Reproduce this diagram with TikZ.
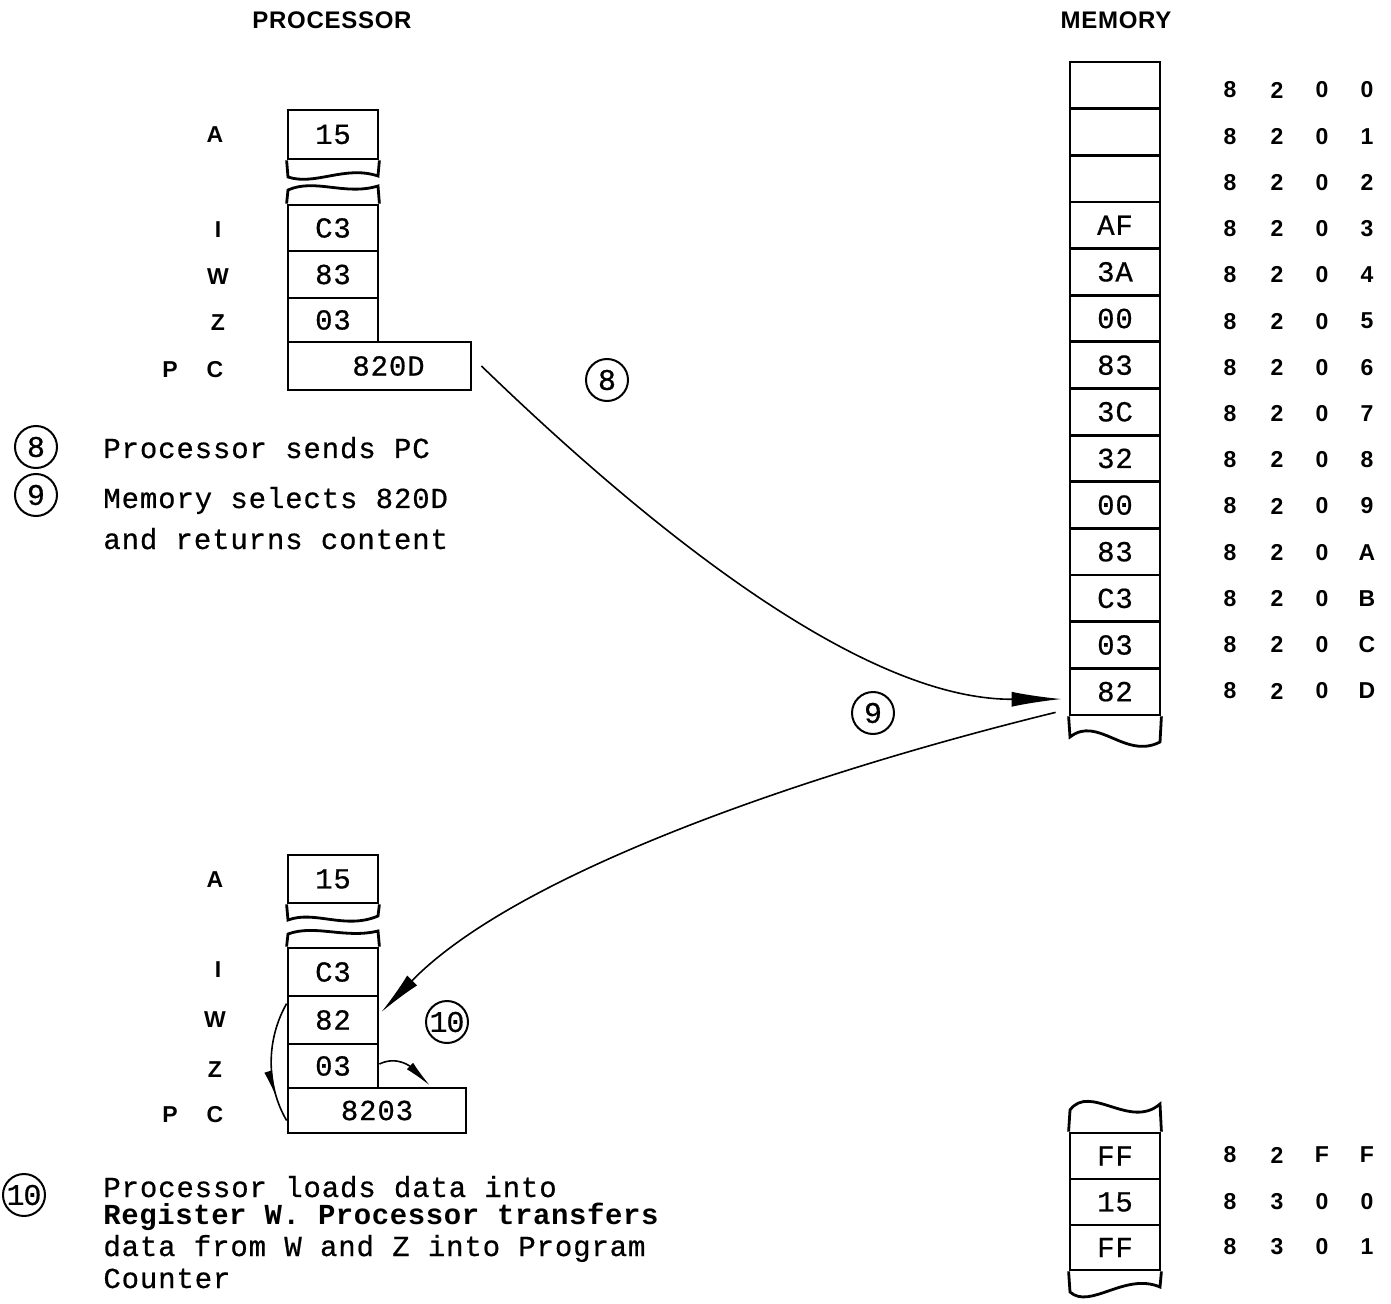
\documentclass[tikz,border=0pt]{standalone}
\usepackage{fontspec}
\setmainfont{Liberation Sans}
\newfontfamily\monof[LetterSpace=3,FakeBold=0.6]{Liberation Mono}
\newfontfamily\monobf[LetterSpace=2]{Liberation Mono Bold}
\newfontfamily\sanslab{Liberation Sans Bold}
\newfontfamily\sanshead[LetterSpace=3]{Liberation Sans Bold}
\usetikzlibrary{arrows.meta,decorations.markings}
\newcommand{\valfont}{\monof\fontsize{14.5}{16}\selectfont}
\newcommand{\descfont}{\monof\fontsize{14.5}{16}\selectfont}
\newcommand{\descbf}{\monobf\fontsize{14.5}{16}\selectfont}
\newcommand{\numfont}{\monof\fontsize{15}{16}\selectfont}
\newcommand{\labfont}{\sanslab\fontsize{11.5}{13}\selectfont}
\newcommand{\headfont}{\sanshead\fontsize{12}{14}\selectfont}
\tikzset{
  cell/.style={draw, line width=1.4pt, minimum width=45pt, minimum height=#1, inner sep=0pt, font=\valfont},
  frame/.style={line width=1.4pt},
  reglab/.style={font=\labfont, inner sep=0pt},
  addr/.style={font=\labfont, inner sep=0pt},
  head/.style={font=\headfont, inner sep=0pt},
  desc/.style={font=\descfont, anchor=base west, inner sep=0pt},
  num/.style={draw, circle, line width=1pt, minimum size=21pt, inner sep=0pt, font=\numfont},
  conn/.style={line width=0.8pt},
}
\begin{document}
\begin{tikzpicture}[x=0.5pt,y=-0.5pt]
\useasboundingbox (0,0) rectangle (1391,1304);

% headers
\node[head] (hp) at (332,20) {PROCESSOR};
\node[head] (hm) at (1116,20) {MEMORY};

% ---------- top processor ----------
\node[cell=24.5pt] (tA) at (333,134.5) {15};
\draw[frame] (tA.south west) -- (288,177) .. controls (315,186) and (345,165) .. (378,176) -- (tA.south east);
\node[cell=23pt] (tI) at (333,228) {C3};
\draw[frame] (tI.north west) -- (288,190) .. controls (315,178) and (345,196) .. (378,186) -- (tI.north east);
\node[cell=23.5pt] (tW) at (333,274.5) {83};
\node[cell=22pt] (tZ) at (333,320) {03};
\node[cell=24pt, minimum width=91.5pt] (tPC) at (379.5,366) {\hspace*{9pt}820D};

\node[reglab] (ltA) at (215,135) {A};
\node[reglab] (ltI) at (218,230) {I};
\node[reglab] (ltW) at (218,277) {W};
\node[reglab] (ltZ) at (218,323) {Z};
\node[reglab] (ltP) at (170,370) {P};
\node[reglab] (ltC) at (215,370) {C};

% ---------- memory ----------
\foreach \v [count=\i from 0] in {{},{},{},AF,3A,00,83,3C,32,00,83,C3,03,82}{
  \pgfmathsetmacro{\yy}{62+46.64*(\i+0.5)}
  \node[cell=23.32pt] (m\i) at (1115,\yy) {\v};
}
\draw[frame] (m13.south west) -- (1070,737) .. controls (1098,715) and (1125,760) .. (1160,742) -- (m13.south east);

\foreach \a [count=\i from 0] in {0,1,2,3,4,5,6,7,8,9,A,B,C,D}{
  \pgfmathsetmacro{\yy}{90+46.23*\i}
  \node[addr] (ad\i a) at (1230,\yy) {8};
  \node[addr] (ad\i b) at (1277,\yy) {2};
  \node[addr] (ad\i c) at (1322,\yy) {0};
  \node[addr] (ad\i d) at (1367,\yy) {\a};
}

% lower memory block
\node[cell=23pt] (bm0) at (1115,1156) {FF};
\node[cell=23pt] (bm1) at (1115,1202) {15};
\node[cell=22.5pt] (bm2) at (1115,1247.5) {FF};
\draw[frame] (bm0.north west) -- (1070,1110) .. controls (1090,1083) and (1130,1130) .. (1160,1104) -- (bm0.north east);
\draw[frame] (bm2.south west) -- (1070,1292) .. controls (1090,1310) and (1125,1272) .. (1160,1287) -- (bm2.south east);

\node[addr] (ae0a) at (1230,1155) {8};
\node[addr] (ae0b) at (1277,1155) {2};
\node[addr] (ae0c) at (1322,1155) {F};
\node[addr] (ae0d) at (1367,1155) {F};
\node[addr] (ae1a) at (1230,1202) {8};
\node[addr] (ae1b) at (1277,1202) {3};
\node[addr] (ae1c) at (1322,1202) {0};
\node[addr] (ae1d) at (1367,1202) {0};
\node[addr] (ae2a) at (1230,1247) {8};
\node[addr] (ae2b) at (1277,1247) {3};
\node[addr] (ae2c) at (1322,1247) {0};
\node[addr] (ae2d) at (1367,1247) {1};

% ---------- bottom processor ----------
\node[cell=24pt] (bA) at (333,879) {15};
\draw[frame] (bA.south west) -- (288,920) .. controls (315,910) and (345,930) .. (378,916) -- (bA.south east);
\node[cell=24pt] (bI) at (333,972) {C3};
\draw[frame] (bI.north west) -- (288,934) .. controls (315,924) and (345,939) .. (378,931) -- (bI.north east);
\node[cell=24pt] (bW) at (333,1020) {82};
\node[cell=22pt] (bZ) at (333,1066) {03};
\node[cell=22.5pt, minimum width=89pt] (bPC) at (377,1110.5) {8203};

\node[reglab] (lbA) at (215,880) {A};
\node[reglab] (lbI) at (218,970) {I};
\node[reglab] (lbW) at (215,1020) {W};
\node[reglab] (lbZ) at (215,1070) {Z};
\node[reglab] (lbP) at (170,1115) {P};
\node[reglab] (lbC) at (215,1115) {C};

% ---------- circled numbers ----------
\node[num] (c8a) at (607,380) {8};
\node[num] (c8b) at (36,447) {8};
\node[num] (c9a) at (36,495) {9};
\node[num] (c9b) at (873,713) {9};
\node[num, font=\numfont\addfontfeatures{LetterSpace=-4}] (c10a) at (447,1022) {10};
\node[num, font=\numfont\addfontfeatures{LetterSpace=-4}] (c10b) at (24,1195) {10};

% ---------- descriptions ----------
\node[desc] (d1) at (103,458) {Processor sends PC};
\node[desc] (d2) at (103,508) {Memory selects 820D};
\node[desc] (d3) at (103,549) {and returns content};
\node[desc] (d4) at (103,1197) {Processor loads data into};
\node[desc, font=\descbf] (d5) at (103,1224) {Register W. Processor transfers};
\node[desc] (d6) at (103,1256) {data from W and Z into Program};
\node[desc] (d7) at (103,1288) {Counter};

% ---------- connectors ----------
\coordinate (a1s) at ([xshift=4.5pt]tPC.east);
\coordinate (a1e) at ([xshift=-3.5pt,yshift=-3.7pt]m13.west);
\draw[conn, -{Latex[length=25pt,width=7.5pt]}] (a1s) .. controls (620,500) and (850,700) .. (a1e);

\coordinate (a2s) at ([xshift=-6.5pt,yshift=2pt]m13.south west);
\coordinate (a2e) at ([xshift=1pt,yshift=4pt]bW.east);
\draw[conn, -{Latex[length=22pt,width=7pt]}] (a2s) .. controls (820,770) and (520,870) .. (a2e);

\coordinate (a3s) at ([yshift=-4.5pt]bW.north west);
\coordinate (a3e) at ([yshift=-5pt]bPC.west);
\draw[conn, postaction={decorate}, decoration={markings, mark=at position 0.8 with {\arrow{Latex[length=14pt,width=4pt]}}}] (a3s) .. controls (266,1040) and (266,1085) .. (a3e);

\coordinate (a4s) at ([yshift=1pt]bZ.east);
\coordinate (a4e) at ([xshift=26.5pt,yshift=0.5pt]bPC.north);
\draw[conn, -{Latex[length=14pt,width=4.5pt]}] (a4s) .. controls (398,1055) and (412,1068) .. (a4e);
\end{tikzpicture}
\end{document}
